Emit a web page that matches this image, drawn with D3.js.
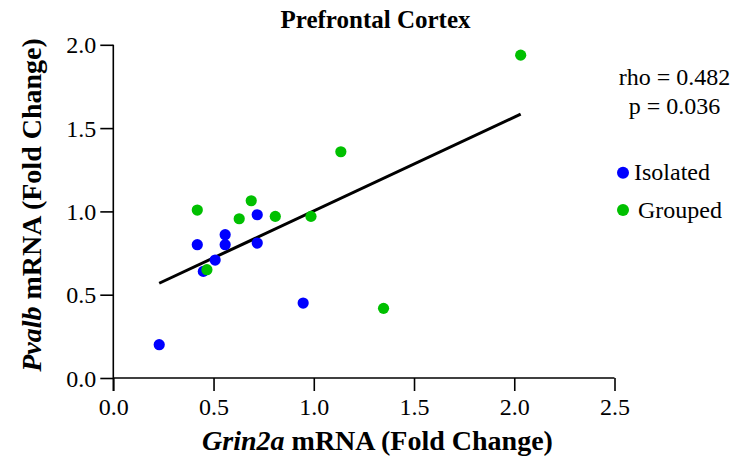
<!DOCTYPE html>
<html>
<head>
<meta charset="utf-8">
<script src="https://cdn.jsdelivr.net/npm/d3@7"></script>
</head>
<body style="margin:0;background:#fff">
<svg id="chart" width="742" height="466" style="display:block"></svg>
<script>
// ---- data ----
const isolatedX = [0.229, 0.449, 0.508, 0.419, 0.558, 0.558, 0.718, 0.718, 0.947];
const isolatedY = [0.20, 0.64, 0.708, 0.80, 0.80, 0.86, 0.81, 0.98, 0.45];
const groupedX = [0.419, 0.467, 0.628, 0.688, 0.808, 0.986, 1.135, 1.348, 2.032];
const groupedY = [1.008, 0.65, 0.956, 1.064, 0.97, 0.97, 1.358, 0.418, 1.938];
const xTicks = [0.0, 0.5, 1.0, 1.5, 2.0, 2.5];
const yTicks = [0.0, 0.5, 1.0, 1.5, 2.0];
const seriesNames = ["Isolated", "Grouped"];
const seriesColors = ["#0000FF", "#00C000"];
const statLines = ["rho = 0.482", "p = 0.036"];
const titleText = "Prefrontal Cortex";

const FONT = '"Liberation Serif", "Times New Roman", monospace';
const svg = d3.select("#chart");
const mLeft = 113.3, mRight = 614.5, mTop = 44.8, mBottom = 378;

const x = d3.scaleLinear().domain([0, 2.5]).range([mLeft, mRight]);
const y = d3.scaleLinear().domain([0, 2.0]).range([mBottom, mTop]);

// axes
const xAxis = d3.axisBottom(x).tickValues(xTicks).tickFormat(d3.format(".1f")).tickSize(13).tickPadding(7);
const yAxis = d3.axisLeft(y).tickValues(yTicks).tickFormat(d3.format(".1f")).tickSize(13).tickPadding(4);

const gx = svg.append("g").attr("transform", `translate(0,${mBottom})`).call(xAxis);
const gy = svg.append("g").attr("transform", `translate(${mLeft},0)`).call(yAxis);
[gx, gy].forEach(g => {
  g.select(".domain").remove();
  g.selectAll(".tick line").attr("stroke", "#000").attr("stroke-width", 1.6);
  g.selectAll(".tick text").style("font-family", FONT).style("font-size", "24px").attr("fill", "#000");
});
gy.selectAll(".tick text").attr("dy", "0.34em");
// axis lines
svg.append("line").attr("x1", mLeft).attr("x2", mRight).attr("y1", mBottom).attr("y2", mBottom)
  .attr("stroke", "#000").attr("stroke-width", 1.6);
svg.append("line").attr("x1", mLeft).attr("x2", mLeft).attr("y1", mTop).attr("y2", mBottom + 13)
  .attr("stroke", "#000").attr("stroke-width", 1.6);

// regression line (least squares over all points)
const allX = isolatedX.concat(groupedX);
const allY = isolatedY.concat(groupedY);
const mx = d3.mean(allX), my = d3.mean(allY);
const sxy = d3.sum(allX.map((v, i) => (v - mx) * (allY[i] - my)));
const sxx = d3.sum(allX.map(v => (v - mx) * (v - mx)));
const slope = sxy / sxx, intercept = my - slope * mx;
const [xmin, xmax] = d3.extent(allX);
svg.append("line")
  .attr("x1", x(xmin)).attr("y1", y(intercept + slope * xmin))
  .attr("x2", x(xmax)).attr("y2", y(intercept + slope * xmax))
  .attr("stroke", "#000").attr("stroke-width", 3);

// points
const series = [
  { xs: isolatedX, ys: isolatedY, color: seriesColors[0] },
  { xs: groupedX, ys: groupedY, color: seriesColors[1] }
];
series.forEach(s => {
  svg.append("g").selectAll("circle").data(s.xs).join("circle")
    .attr("cx", d => x(d)).attr("cy", (d, i) => y(s.ys[i]))
    .attr("r", 5.6).attr("fill", s.color);
});

// title
svg.append("text").attr("x", 375.5).attr("y", 28).attr("text-anchor", "middle")
  .style("font-family", FONT).style("font-size", "25px").style("font-weight", "bold").text(titleText);

// x title
const xt = svg.append("text").attr("x", 377.5).attr("y", 450).attr("text-anchor", "middle")
  .style("font-family", FONT).style("font-size", "28px").style("font-weight", "bold");
xt.append("tspan").style("font-style", "italic").text("Grin2a");
xt.append("tspan").text(" mRNA (Fold Change)");

// y title
const yt = svg.append("text").attr("transform", "translate(41,205) rotate(-90)").attr("text-anchor", "middle")
  .style("font-family", FONT).style("font-size", "28px").style("font-weight", "bold");
yt.append("tspan").style("font-style", "italic").text("Pvalb");
yt.append("tspan").text(" mRNA (Fold Change)");

// stats
svg.append("g").selectAll("text").data(statLines).join("text")
  .attr("x", 674.5).attr("y", (d, i) => 85 + i * 29).attr("text-anchor", "middle")
  .style("font-family", FONT).style("font-size", "24px").text(d => d);

// legend
const leg = svg.append("g");
const legY = [172.7, 210];
const legTextX = [634, 638];
seriesNames.forEach((n, i) => {
  leg.append("circle").attr("cx", 623).attr("cy", legY[i]).attr("r", 6).attr("fill", seriesColors[i]);
  leg.append("text").attr("x", legTextX[i]).attr("y", legY[i] + 7.5)
    .style("font-family", FONT).style("font-size", "24px").text(n);
});
</script>
</body>
</html>
